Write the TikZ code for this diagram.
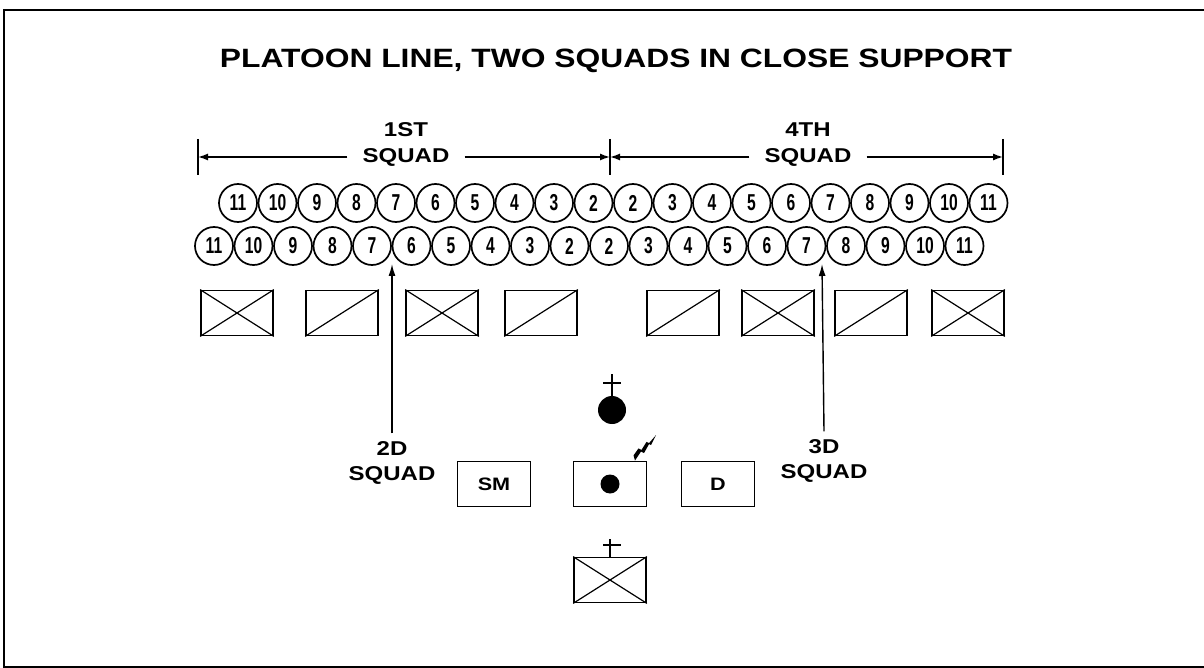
\documentclass[tikz,border=0pt]{standalone}
\usepackage{fontspec}
\setmainfont{Liberation Sans}
\newfontfamily\widefont[FakeStretch=1.2]{Liberation Sans}
\newfontfamily\narrowfont[FakeStretch=0.68]{Liberation Sans}
\usetikzlibrary{arrows.meta,positioning}

\tikzset{
  man/.style={circle, draw, line width=1.7pt, minimum size=38pt, inner sep=0pt, font=\narrowfont\bfseries\fontsize{23}{23}\selectfont},
  veh/.style={rectangle, draw, line width=1.8pt, minimum width=72pt, minimum height=45pt, inner sep=0pt},
  hq/.style={rectangle, draw, line width=1.8pt, minimum width=73pt, minimum height=45pt, inner sep=0pt, font=\widefont\bfseries\fontsize{18}{18}\selectfont},
  lbl/.style={font=\widefont\bfseries\fontsize{20}{25}\selectfont, align=center, inner sep=0pt},
  dimline/.style={-{Latex[length=10pt,width=7pt]}, line width=1.4pt},
  ptr/.style={-{Latex[length=12pt,width=7pt]}, line width=1.4pt},
  tick/.style={line width=1.8pt},
  diag/.style={line width=1.2pt}
}

\begin{document}
\begin{tikzpicture}[x=1pt, y=-1pt]
\useasboundingbox (0,0) rectangle (1204,668);
\draw[line width=2pt] (1204,10) -- (4,10) -- (4,667) -- (1204,667);

\node[font=\widefont\bfseries\fontsize{26.5}{26.5}\selectfont] (title) at (616,61) {PLATOON LINE, TWO SQUADS IN CLOSE SUPPORT};

% squad frontage
\coordinate (tl) at (198,157);
\coordinate (tm) at (610,157);
\coordinate (tr) at (1003,157);
\foreach \c in {tl,tm,tr}
  \draw[tick] ([yshift=18pt]\c) -- ([yshift=-18pt]\c);
\node[lbl, inner xsep=15pt] (sq1) at (406,157) {SQUAD};
\node[lbl] (cap1) at (406,130) {1ST};
\node[lbl, inner xsep=15pt] (sq4) at (808,157) {SQUAD};
\node[lbl] (cap4) at (808,130) {4TH};
\draw[dimline] (sq1.west) -- (tl);
\draw[dimline] (sq1.east) -- (tm);
\draw[dimline] (sq4.west) -- (tm);
\draw[dimline] (sq4.east) -- (tr);

% two lines of men
\foreach \n [count=\i] in {11,10,...,2,2,3,...,11}
  \node[man] (a\i) at ({238+(\i-1)*39.5},203) {\n};
\foreach \n [count=\i] in {11,10,...,2,2,3,...,11}
  \node[man] (b\i) at ({214+(\i-1)*39.5},246) {\n};

% vehicles
\foreach \x [count=\i] in {237,342,442,541,683,778,871,968}{
  \node[veh] (v\i) at (\x,313) {};
  \draw[diag] (v\i.south west) -- (v\i.north east);
}
\foreach \i in {1,3,6,8}
  \draw[diag] (v\i.north west) -- (v\i.south east);

% 2d and 3d squads
\node[lbl] (sq2) at (392,463) {2D\\SQUAD};
\node[lbl] (sq3) at (824,461) {3D\\SQUAD};
\coordinate (p2) at (392,264);
\coordinate (p3) at (822,264);
\draw[ptr] ([yshift=8pt]sq2.north) -- (p2);
\draw[ptr] ([yshift=8pt]sq3.north) -- (p3);

% platoon hq
\node[circle, fill, minimum size=28pt, inner sep=0pt] (pl) at (612,410) {};
\draw[line width=1.5pt] (pl.north) -- ++(0,-22);
\draw[line width=1.5pt] (603,383) -- (621,383);
\node[hq] (sm) at (494,484) {SM};
\node[hq] (cmd) at (610,484) {};
\node[circle, fill, minimum size=19pt, inner sep=0pt] (dot) at (cmd) {};
\node[hq] (dr) at (718,484) {D};
\fill ([xshift=25pt]cmd.north) -- ++(6,-9) -- ++(3,1.5) -- ++(5,-9) -- ++(2,1) -- ++(5,-10)
  -- ++(-7,8) -- ++(-2.5,-1.2) -- ++(-5,8) -- ++(-3,-1.5) -- ++(-5,7) -- cycle;
\node[veh] (med) at (610,580) {};
\draw[diag] (med.south west) -- (med.north east);
\draw[diag] (med.north west) -- (med.south east);
\draw[line width=1.5pt] (med.north) -- ++(0,-18);
\draw[line width=1.5pt] (603,545) -- (621,545);
\end{tikzpicture}
\end{document}
